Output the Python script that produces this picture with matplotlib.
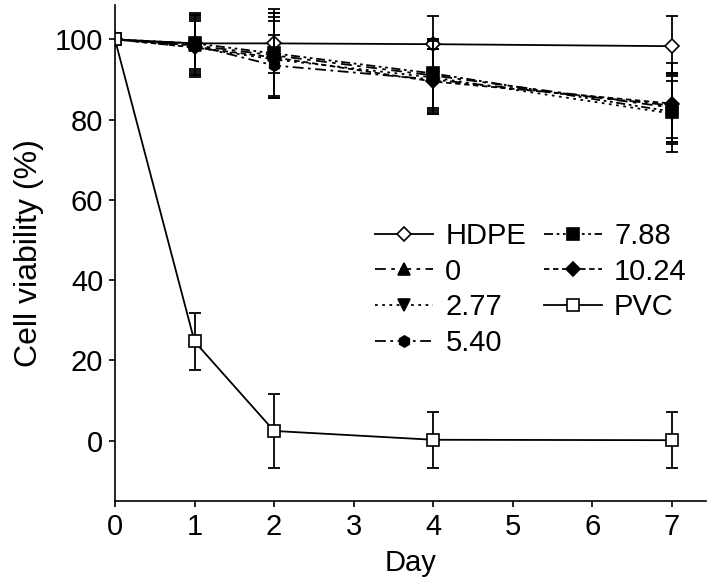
import matplotlib.pyplot as plt

plt.rcParams["font.family"] = ["Liberation Sans", "DejaVu Sans"]

days = [0, 1, 2, 4, 7]

hdpe = [100, 99.0, 99.0, 98.8, 98.3]
hdpe_err = [0, 6.5, 7.5, 7.0, 7.5]

v0 = [100, 98.5, 96.0, 91.0, 83.0]
v0_err = [0, 7.5, 10.5, 9.0, 8.5]
v277 = [100, 98.0, 95.0, 90.5, 81.5]
v277_err = [0, 7.0, 9.5, 9.0, 9.5]
v540 = [100, 98.5, 93.5, 90.0, 83.5]
v540_err = [0, 8.0, 7.5, 7.5, 8.0]
v788 = [100, 99.0, 96.5, 91.5, 82.0]
v788_err = [0, 7.0, 11.0, 8.5, 7.5]
v1024 = [100, 98.0, 95.5, 89.5, 84.0]
v1024_err = [0, 6.5, 10.0, 8.0, 10.0]

pvc = [100, 24.7, 2.4, 0.2, 0.1]
pvc_err = [0, 7.0, 9.3, 7.0, 7.0]

series = [
    ("HDPE", hdpe, hdpe_err, "D", "white", "-"),
    ("0", v0, v0_err, "^", "black", (0, (6, 3, 2, 3))),
    ("2.77", v277, v277_err, "v", "black", (0, (1.5, 2.5))),
    ("5.40", v540, v540_err, "h", "black", (0, (6, 2.5, 1.5, 2.5))),
    ("7.88", v788, v788_err, "s", "black", (0, (5, 2, 1.5, 2, 1.5, 2))),
    ("10.24", v1024, v1024_err, "D", "black", (0, (3, 2))),
    ("PVC", pvc, pvc_err, "s", "white", "-"),
]

FS = 21

fig = plt.figure(figsize=(7.14, 5.85), dpi=100)
ax = fig.add_axes([0.161, 0.144, 0.828, 0.847])

handles = []
for label, vals, err, marker, face, ls in series:
    ms = 7 if marker == "D" else 8
    ax.errorbar(days, vals, yerr=err, fmt="none", ecolor="black",
                elinewidth=1.3, capsize=4, capthick=1.3)
    line, = ax.plot(days, vals, color="black", linestyle=ls, linewidth=1.3,
                    marker=marker, markersize=ms, markerfacecolor=face,
                    markeredgecolor="black", markeredgewidth=1.2, label=label)
    handles.append(line)

ax.set_xlim(0, 7.43)
ax.set_ylim(-15, 108.5)
ax.set_xticks(range(8))
ax.set_yticks([0, 20, 40, 60, 80, 100])
ax.spines["top"].set_visible(False)
ax.spines["right"].set_visible(False)
ax.spines["left"].set_linewidth(1.2)
ax.spines["bottom"].set_linewidth(1.2)
ax.tick_params(direction="out", length=4.5, width=1.2, labelsize=FS, pad=4)
ax.set_xlabel("Day", fontsize=FS, labelpad=6)
ax.set_ylabel("Cell viability (%)", fontsize=23, labelpad=8)

ax.legend(handles=handles, ncol=2, frameon=False, fontsize=FS, loc="upper left",
          bbox_to_anchor=(0.44, 0.5625), handlelength=2.0, handletextpad=0.41,
          columnspacing=0.6, labelspacing=0.26, borderaxespad=0, borderpad=0)

fig.savefig("out.png", dpi=100)
